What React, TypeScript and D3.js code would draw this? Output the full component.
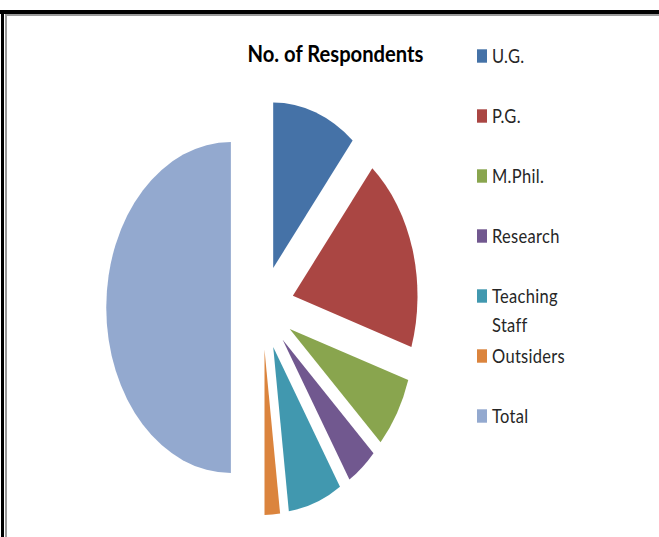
import React from "react";
import * as d3 from "d3";

const categories = ["U.G.", "P.G.", "M.Phil.", "Research", "Teaching Staff", "Outsiders", "Total"];
const values = [44, 76, 28, 16, 28, 8, 200];
const colors = ["#4572A7", "#AA4643", "#89A54E", "#71588F", "#4198AF", "#DB843D", "#93A9CF"];
const legendLines = [["U.G."], ["P.G."], ["M.Phil."], ["Research"], ["Teaching", "Staff"], ["Outsiders"], ["Total"]];
const title = "No. of Respondents";

const W = 659;
const H = 537;
const cx = 262.5;
const cy = 307.5;
const R = 165.5;
const sx = 0.753;
const explode = 42;

export default function App() {
  const pie = d3.pie<number>().sort(null).value((d) => d)(values);
  const arc = d3.arc<d3.PieArcDatum<number>>().innerRadius(0).outerRadius(R);
  const legendY = d3.scaleLinear().domain([0, 1]).range([62.7, 122.7]);

  return (
    <svg
      width={W}
      height={H}
      style={{ position: "absolute", left: 0, top: 0, background: "#fff" }}
    >
      <rect x={0} y={0} width={W} height={H} fill="#fff" />
      {/* frame */}
      <rect x={0} y={10} width={W} height={4} fill="#000" />
      <rect x={1} y={10} width={3} height={H - 10} fill="#000" />
      <rect x={5} y={14} width={W - 5} height={2} fill="#9a9a9a" />
      <rect x={5} y={14} width={2} height={H - 14} fill="#9a9a9a" />

      <g transform={`translate(${cx},${cy}) scale(${sx},1)`}>
        {pie.map((p, i) => {
          const mid = (p.startAngle + p.endAngle) / 2;
          const dx = explode * Math.sin(mid);
          const dy = -explode * Math.cos(mid);
          return (
            <path
              key={categories[i]}
              d={arc(p) || ""}
              fill={colors[i]}
              transform={`translate(${dx},${dy})`}
            />
          );
        })}
      </g>

      <g transform={`translate(247.5,61.7) scale(1,1.26)`}>
        <text
          x={0}
          y={0}
          fontFamily="Lato, 'Open Sans', sans-serif"
          fontWeight="bold"
          fontSize={18.5}
          fill="#000"
          textLength={176}
          lengthAdjust="spacingAndGlyphs"
        >
          {title}
        </text>
      </g>

      {categories.map((c, i) => {
        const by = legendY(i);
        return (
          <g key={c}>
            <rect x={477} y={by - 13.4} width={10} height={13.4} fill={colors[i]} />
            {legendLines[i].map((line, j) => (
              <g key={line} transform={`translate(492,${by + j * 29}) scale(1,1.2)`}>
                <text
                  x={0}
                  y={0}
                  fontFamily="Lato, 'Open Sans', sans-serif"
                  fontSize={16.5}
                  letterSpacing={0.3}
                  fill="#262626"
                >
                  {line}
                </text>
              </g>
            ))}
          </g>
        );
      })}
    </svg>
  );
}
